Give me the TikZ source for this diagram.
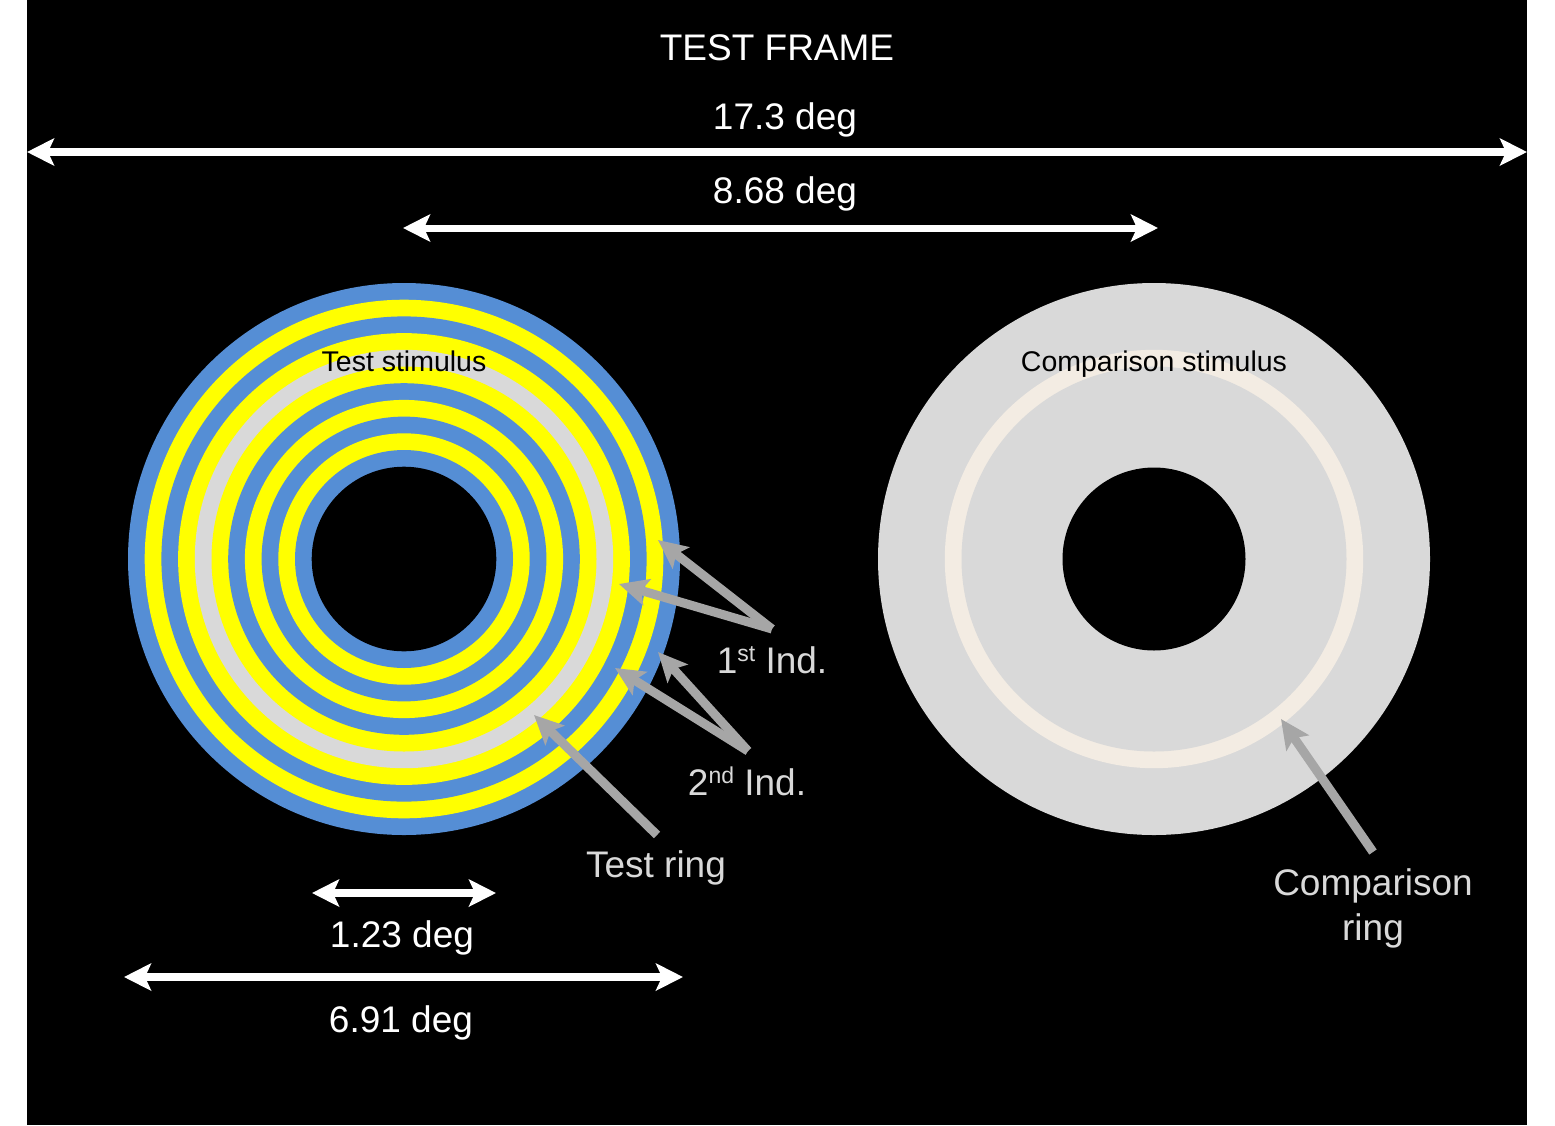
\documentclass[tikz,border=0pt]{standalone}
\usepackage{fontspec}
\setmainfont{Liberation Sans}
\usetikzlibrary{arrows.meta}
\definecolor{ringblue}{HTML}{558ED5}
\definecolor{ringyellow}{HTML}{FFFF00}
\definecolor{ringgray}{HTML}{D9D9D9}
\definecolor{ringcream}{HTML}{F3ECE3}
\definecolor{ptrgray}{HTML}{A6A6A6}
\definecolor{lblgray}{HTML}{D9D9D9}
\tikzset{
  dimarrow/.style={draw=white, line width=8pt,
    {Stealth[length=27pt,width=27pt,inset=6pt]}-{Stealth[length=27pt,width=27pt,inset=6pt]}},
  ptr/.style={draw=ptrgray, line width=9pt, -{Stealth[length=29pt,width=27pt,inset=6pt]}},
  big/.style={font=\fontsize{37}{45}\selectfont, inner sep=0pt, anchor=base},
  small/.style={font=\fontsize{28.5}{34}\selectfont, inner sep=0pt, anchor=base, text=black},
}
\newcommand{\supx}[1]{{\fontsize{23}{23}\selectfont\raisebox{12pt}{#1}}}
\begin{document}
\begin{tikzpicture}[x=1pt,y=-1pt]
\useasboundingbox (0,0) rectangle (1555,1125);
\fill[white] (0,0) rectangle (1555,1125);
\fill[black] (27,0) rectangle (1527,1125);

% test stimulus
\coordinate (tc) at (404,559);
\foreach \r/\c in {276/ringblue,259.3/ringyellow,242.6/ringblue,225.9/ringyellow,209.2/ringgray,192.5/ringyellow,175.8/ringblue,159.1/ringyellow,142.4/ringblue,125.7/ringyellow,109/ringblue,92.3/black}
  \fill[\c] (tc) circle[radius=\r];

% comparison stimulus
\coordinate (cc) at (1154,559);
\fill[ringgray] (cc) circle[radius=276];
\fill[ringcream] (cc) circle[radius=209.2];
\fill[ringgray] (cc) circle[radius=192.5];
\fill[black] (cc) circle[radius=91.5];

% texts
\node[big, text=white] (title) at (777,60) {TEST FRAME};
\node[big, text=white] (w173) at (785,129) {17.3 deg};
\node[big, text=white] (w868) at (785,203) {8.68 deg};
\node[small] (tst) at (404,371) {Test stimulus};
\node[small] (cst) at (1154,371) {Comparison stimulus};
\node[big, text=lblgray] (ind1) at (772,673) {1\supx{st} Ind.};
\node[big, text=lblgray] (ind2) at (747,795) {2\supx{nd} Ind.};
\node[big, text=lblgray] (tring) at (656,877) {Test ring};
\node[big, text=lblgray, align=center] (cring) at (1373,940) {Comparison\\ring};
\node[big, text=white] (w123) at (402,947) {1.23 deg};
\node[big, text=white] (w691) at (401,1032) {6.91 deg};

% dimension arrows
\coordinate (d1l) at (27,152);  \coordinate (d1r) at (1527,152);
\coordinate (d2l) at (403,228); \coordinate (d2r) at (1158,228);
\coordinate (d3l) at (312,893); \coordinate (d3r) at (496,893);
\coordinate (d4l) at (124,977); \coordinate (d4r) at (683,977);
\draw[dimarrow] (d1l) -- (d1r);
\draw[dimarrow, line width=7pt] (d2l) -- (d2r);
\draw[dimarrow] (d3l) -- (d3r);
\draw[dimarrow] (d4l) -- (d4r);

% pointer arrows
\coordinate (i1o) at (772,629); \coordinate (i1a) at (658,540); \coordinate (i1b) at (619,584);
\coordinate (i2o) at (748,751); \coordinate (i2a) at (658,652); \coordinate (i2b) at (615,668);
\coordinate (tro) at (657,835); \coordinate (tra) at (534,715);
\coordinate (cro) at (1373,852); \coordinate (cra) at (1281,719);
\draw[ptr] (i1o) -- (i1a);
\draw[ptr] (i1o) -- (i1b);
\draw[ptr] (i2o) -- (i2a);
\draw[ptr] (i2o) -- (i2b);
\draw[ptr] (tro) -- (tra);
\draw[ptr] (cro) -- (cra);
\end{tikzpicture}
\end{document}
